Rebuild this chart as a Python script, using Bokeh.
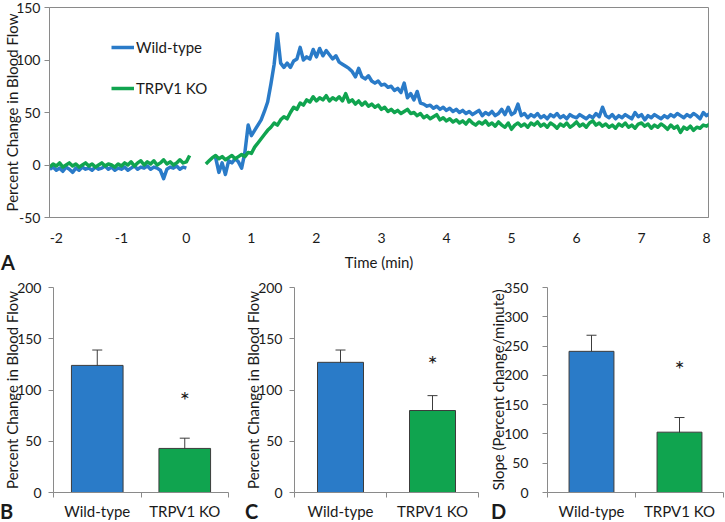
from bokeh.plotting import figure
from bokeh.layouts import column, row
from bokeh.models import (ColumnDataSource, FixedTicker, Legend, LegendItem, Div,
                          Whisker, TeeHead, Range1d)
from bokeh.core.properties import value
from bokeh.embed import file_html
from bokeh.resources import INLINE

# ---------------- data (panel A: time course) ----------------
TIME_STEP = 0.05

WT_PRE_START = -2.10
WT_PRE = [-4, -2, -5, -3, -6, -2, -4, -7, -3, -5, -2, -4, -3, -5, -2, -4, -3, -1, -4, -2,
          -5, -3, -4, -2, -5, -3, -1, -4, -2, -3, -1, -4, -2, -3, -5, -13, -4, -2, -3, -1,
          -4, -2, -3]

KO_PRE_START = -2.10
KO_PRE = [-2, 1, -1, 2, -2, 0, 2, -1, 1, -2, 0, 2, -1, 1, -2, 0, 2, -1, 1, 0,
          -2, 1, -1, 2, 0, 3, -1, 2, 4, 0, 3, 1, 4, 0, 2, 5, 1, 3, 0, 2,
          5, 2, 3, 9]

WT_POST_START = 0.45
WT_POST = [7, -7, 2, -9, 4, 2, 6, 3, -3, 12, 38, 28, 33, 38, 43, 51, 60, 77, 96, 125,
           97, 93, 97, 93, 99, 101, 112, 100, 103, 101, 110, 103, 111, 104, 109, 105, 101, 104, 98, 96,
           94, 92, 89, 84, 92, 84, 82, 85, 80, 78, 80, 76, 77, 74, 75, 71, 73, 69, 78, 64,
           68, 62, 70, 59, 58, 56, 57, 54, 56, 53, 55, 52, 54, 51, 53, 50, 52, 49, 51, 48,
           50, 52, 47, 50, 48, 51, 47, 49, 53, 48, 55, 48, 50, 58, 47, 49, 45, 48, 46, 49,
           45, 47, 44, 48, 46, 49, 45, 47, 44, 48, 46, 45, 48, 46, 44, 47, 45, 49, 46, 55,
           47, 45, 48, 44, 47, 45, 48, 46, 44, 50, 46, 48, 43, 47, 45, 48, 46, 44, 47, 45,
           48, 46, 49, 47, 45, 48, 46, 49, 47, 44, 50, 47, 49]

KO_POST_START = 0.30
KO_POST = [1, 4, 7, 9, 6, 8, 5, 7, 9, 6, 8, 10, 8, 12, 11, 17, 21, 25, 29, 33,
           36, 40, 38, 43, 46, 44, 50, 55, 53, 59, 57, 62, 60, 65, 61, 64, 62, 66, 61, 64,
           62, 65, 61, 68, 60, 62, 58, 61, 57, 60, 56, 58, 55, 57, 53, 55, 51, 53, 50, 52,
           49, 51, 53, 49, 50, 47, 49, 45, 47, 44, 46, 48, 43, 45, 42, 44, 41, 43, 40, 42,
           39, 43, 40, 38, 41, 39, 42, 38, 40, 37, 41, 38, 36, 40, 34, 38, 40, 37, 39, 36,
           40, 38, 41, 37, 39, 36, 40, 38, 35, 39, 37, 40, 36, 38, 41, 37, 39, 36, 40, 42,
           38, 40, 37, 39, 36, 38, 35, 39, 37, 40, 36, 38, 35, 39, 40, 37, 39, 35, 38, 36,
           39, 37, 34, 38, 35, 37, 31, 36, 34, 37, 33, 36, 35, 38, 37, 39]

A_X_TICKS = [-2, -1, 0, 1, 2, 3, 4, 5, 6, 7, 8]
A_Y_TICKS = [-50, 0, 50, 100, 150]
SERIES_NAMES = ["Wild-type", "TRPV1 KO"]

# ---------------- data (panels B, C, D: bars) ----------------
CATEGORIES = ["Wild-type", "TRPV1 KO"]
B_MEAN = [124, 43]
B_SEM = [15, 10]
C_MEAN = [127, 80]
C_SEM = [12, 14.5]
D_MEAN = [241, 103]
D_SEM = [27.5, 25]
SIG_Y = {"B": 95, "C": 130, "D": 218}
BC_Y_TICKS = [0, 50, 100, 150, 200]
D_Y_TICKS = [0, 50, 100, 150, 200, 250, 300, 350]
PANEL_LETTERS = ["A", "B", "C", "D"]

# ---------------- style ----------------
BLUE = "#2a7bc8"
GREEN = "#10a44f"
AXIS_GRAY = "#8a8a8a"
TEXT = "#1a1a1a"
EDGE = "#3c3c3c"
FONT = "Lato"


def times(start, vals):
    return [round(start + i * TIME_STEP, 3) for i in range(len(vals))]


def style_axis(ax, size="14px"):
    ax.major_label_text_font = FONT
    ax.major_label_text_font_size = size
    ax.major_label_text_color = TEXT
    ax.axis_label_text_font = FONT
    ax.axis_label_text_font_size = "15px"
    ax.axis_label_text_font_style = "normal"
    ax.axis_label_text_color = TEXT
    ax.axis_line_color = AXIS_GRAY
    ax.major_tick_line_color = AXIS_GRAY
    ax.minor_tick_line_color = AXIS_GRAY


# ---------------- panel A ----------------
pa = figure(width=725, height=276, x_range=Range1d(-2.105, 8.03), y_range=Range1d(-50, 150),
            output_backend="svg", toolbar_location=None,
            min_border_left=48, min_border_right=17, min_border_top=7, min_border_bottom=59)
pa.grid.visible = False
pa.outline_line_color = AXIS_GRAY
pa.background_fill_color = "white"
pa.border_fill_color = "white"

wt_pre = pa.line(times(WT_PRE_START, WT_PRE), WT_PRE, line_color=BLUE, line_width=3.5, line_join="round")
wt_post = pa.line(times(WT_POST_START, WT_POST), WT_POST, line_color=BLUE, line_width=3.5, line_join="round")
ko_pre = pa.line(times(KO_PRE_START, KO_PRE), KO_PRE, line_color=GREEN, line_width=3.5, line_join="round")
ko_post = pa.line(times(KO_POST_START, KO_POST), KO_POST, line_color=GREEN, line_width=3.5, line_join="round")

ya = pa.yaxis[0]
ya.ticker = FixedTicker(ticks=A_Y_TICKS)
ya.major_label_overrides = {t: str(t) for t in A_Y_TICKS}
ya.axis_label = "Percent Change in Blood Flow"
style_axis(ya)
ya.major_tick_out = 5
ya.major_tick_in = 0
ya.minor_tick_out = 0
ya.minor_tick_in = 0
ya.major_label_standoff = 4
ya.axis_label_standoff = -8

xa = pa.xaxis[0]
xa.ticker = FixedTicker(ticks=A_X_TICKS)
xa.major_label_overrides = {t: str(t) for t in A_X_TICKS}
xa.axis_label = "Time (min)"
style_axis(xa)
xa.major_tick_out = 0
xa.major_tick_in = 0
xa.minor_tick_out = 0
xa.minor_tick_in = 0
xa.major_label_standoff = 15
xa.axis_label_standoff = 7

legend = Legend(items=[LegendItem(label=SERIES_NAMES[0], renderers=[wt_pre]),
                       LegendItem(label=SERIES_NAMES[1], renderers=[ko_pre])],
                location=(62, 120), orientation="vertical",
                glyph_width=23, glyph_height=16, label_height=16, label_standoff=2,
                spacing=23, padding=0, margin=0,
                label_text_font=FONT, label_text_font_size="15px", label_text_color=TEXT,
                border_line_color=None, background_fill_alpha=0)
pa.add_layout(legend)


# ---------------- bar panels ----------------
def bar_panel(width, left, right, ymax, yticks, means, sems, sig_y, ytitle,
              bar_w, label_standoff, title_standoff):
    p = figure(width=width, height=246, x_range=Range1d(0, 2), y_range=Range1d(0, ymax),
               output_backend="svg", toolbar_location=None,
               min_border_left=left, min_border_right=right, min_border_top=11,
               min_border_bottom=28)
    p.grid.visible = False
    p.outline_line_color = None
    p.background_fill_color = "white"
    p.border_fill_color = "white"
    xs = [0.5, 1.5]
    p.vbar(x=xs, top=means, width=bar_w, fill_color=[BLUE, GREEN], line_color=EDGE, line_width=1)
    src = ColumnDataSource(dict(x=xs, upper=[m + s for m, s in zip(means, sems)],
                                lower=[m - s for m, s in zip(means, sems)]))
    p.add_layout(Whisker(source=src, base="x", upper="upper", lower="lower",
                         line_color=EDGE, line_width=1,
                         upper_head=TeeHead(size=10, line_color=EDGE, line_width=1),
                         lower_head=TeeHead(size=10, line_color=EDGE, line_width=1)))
    p.text(x=[1.5], y=[sig_y], text=["*"], text_font=value(FONT), text_font_size="24px",
           text_align="center", text_baseline="middle", text_color=TEXT, y_offset=4)

    ay = p.yaxis[0]
    ay.ticker = FixedTicker(ticks=yticks)
    ay.major_label_overrides = {t: str(t) for t in yticks}
    ay.axis_label = ytitle
    style_axis(ay)
    ay.major_tick_out = 5
    ay.major_tick_in = 0
    ay.minor_tick_out = 0
    ay.minor_tick_in = 0
    ay.major_label_standoff = label_standoff
    ay.axis_label_standoff = title_standoff

    ax = p.xaxis[0]
    ax.ticker = FixedTicker(ticks=xs, minor_ticks=[0, 1, 2])
    ax.major_label_overrides = {0.5: CATEGORIES[0], 1.5: CATEGORIES[1]}
    style_axis(ax, size="15px")
    ax.major_tick_out = 0
    ax.major_tick_in = 0
    ax.minor_tick_out = 5
    ax.minor_tick_in = 0
    ax.major_label_standoff = 4
    return p


pb = bar_panel(241, 52, 13, 200, BC_Y_TICKS, B_MEAN, B_SEM, SIG_Y["B"],
               "Percent Change in Blood Flow", 0.59, 7, -7)
pc = bar_panel(245, 52, 8, 200, BC_Y_TICKS, C_MEAN, C_SEM, SIG_Y["C"],
               "Percent Change in Blood Flow", 0.5, 7, -7)
pd = bar_panel(239, 61, 2, 350, D_Y_TICKS, D_MEAN, D_SEM, SIG_Y["D"],
               "Slope (Percent change/minute)", 0.51, 14, -6)


def letter(txt, left, top):
    return Div(text=txt, styles={"position": "absolute", "left": f"{left}px", "top": f"{top}px",
                                 "font-family": FONT, "font-weight": "bold", "font-size": "20px",
                                 "line-height": "19px", "height": "19px", "color": TEXT,
                                 "margin": "0", "padding": "0", "z-index": "10"})


letters = [letter(PANEL_LETTERS[0], 1, 253), letter(PANEL_LETTERS[1], 0, 502),
           letter(PANEL_LETTERS[2], 245, 502), letter(PANEL_LETTERS[3], 491, 502)]

root = column(pa, row(pb, pc, pd, spacing=0), *letters, spacing=0)

open("out.html", "w").write(file_html(root, INLINE))
